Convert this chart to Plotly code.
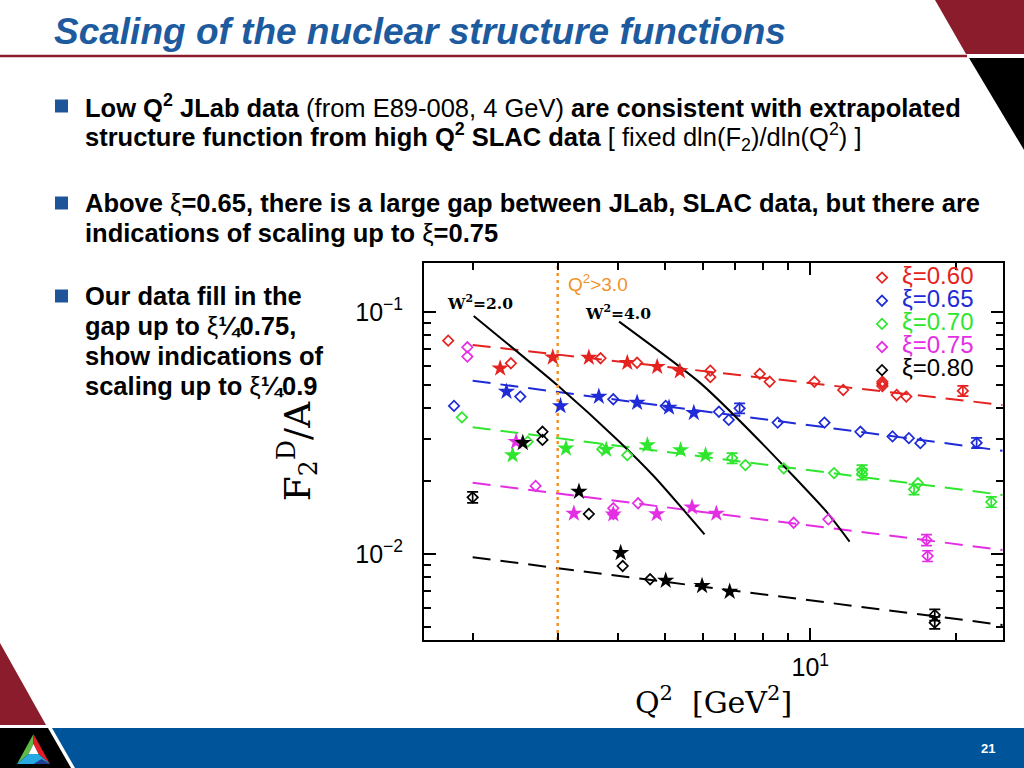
import math
import plotly.graph_objects as go

# ---------------- data ----------------
X_MIN, X_MAX = 1.586, 25.06
Y_MIN, Y_MAX = 0.00441, 0.1594
Q2_CUT = 3.0

FIT_Q2 = [2.0, 25.0]

# xi = 0.60 (red)
Q2_R_DIA = [1.78, 2.40, 3.68, 4.38, 6.21, 6.21, 7.86, 8.24, 10.2, 11.7, 14.1, 14.1, 14.1, 15.1, 15.8]
F_R_DIA = [0.0761, 0.0614, 0.0644, 0.0617, 0.0572, 0.0538, 0.0555, 0.0515, 0.0515, 0.0476, 0.0515, 0.0505, 0.0494, 0.0454, 0.0447]
Q2_R_ERR = [20.7]
F_R_ERR = [0.0472]
E_R_ERR = [0.0023]
Q2_R_STAR = [2.28, 2.93, 3.48, 4.18, 4.82, 5.37]
F_R_STAR = [0.0585, 0.0650, 0.0648, 0.0617, 0.0594, 0.0570]
FIT_R = [0.0731, 0.0413]

# xi = 0.65 (blue)
Q2_B_DIA = [1.83, 2.51, 3.91, 5.02, 6.47, 6.78, 8.56, 10.7, 12.7, 14.8, 16.0, 16.9]
F_B_DIA = [0.0409, 0.0447, 0.0436, 0.0409, 0.0387, 0.0358, 0.0349, 0.0349, 0.0320, 0.0306, 0.0301, 0.0287]
Q2_B_ERR = [7.14, 22.1]
F_B_ERR = [0.0400, 0.0288]
E_B_ERR = [0.0019, 0.0014]
Q2_B_STAR = [2.35, 3.04, 3.65, 4.38, 5.10, 5.74]
F_B_STAR = [0.0469, 0.0409, 0.0447, 0.0422, 0.0403, 0.0383]
FIT_B = [0.0520, 0.0267]

# xi = 0.70 (green)
Q2_G_DIA = [1.90, 2.60, 3.71, 4.18, 7.34, 8.81, 11.2, 16.7]
F_G_DIA = [0.0367, 0.0291, 0.0271, 0.0256, 0.0233, 0.0226, 0.0216, 0.0196]
Q2_G_ERR = [6.89, 12.8, 12.8, 16.4, 23.7]
F_G_ERR = [0.0249, 0.0222, 0.0214, 0.0185, 0.0164]
E_G_ERR = [0.0012, 0.0011, 0.0011, 0.0009, 0.0008]
Q2_G_STAR = [2.42, 3.12, 3.78, 4.60, 5.39, 6.07]
F_G_STAR = [0.0256, 0.0273, 0.0270, 0.0282, 0.0269, 0.0256]
FIT_G = [0.0334, 0.01754]

# xi = 0.75 (magenta)
Q2_M_DIA = [1.95, 1.95, 2.70, 3.91, 3.91, 4.40, 9.24, 10.9]
F_M_DIA = [0.0715, 0.0654, 0.0191, 0.01545, 0.01463, 0.0162, 0.01346, 0.0139]
Q2_M_ERR = [17.4, 17.5]
F_M_ERR = [0.01143, 0.00981]
E_M_ERR = [0.0006, 0.0005]
Q2_M_STAR = [2.46, 3.24, 3.91, 4.81, 5.69, 6.39]
F_M_STAR = [0.0291, 0.0147, 0.0146, 0.01463, 0.0156, 0.0147]
FIT_M = [0.0197, 0.01039]

# xi = 0.80 (black)
Q2_K_DIA = [2.79, 2.79, 3.48, 4.09, 4.66]
F_K_DIA = [0.0320, 0.0296, 0.01463, 0.00892, 0.00786]
Q2_K_ERR = [2.0, 18.1, 18.1]
F_K_ERR = [0.01715, 0.0056, 0.0052]
E_K_ERR = [0.0009, 0.0003, 0.0003]
Q2_K_STAR = [2.54, 3.32, 4.05, 5.02, 5.97, 6.81]
F_K_STAR = [0.0288, 0.0181, 0.0101, 0.00776, 0.00738, 0.00699]
FIT_K = [0.00969, 0.00509]

# W^2 = const curves
Q2_W2_2 = [2.01, 3.02, 3.99, 4.75, 6.04]
F_W2_2 = [0.0963, 0.0491, 0.0296, 0.0209, 0.01206]
Q2_W2_4 = [4.02, 5.93, 7.82, 10.8, 12.06]
F_W2_4 = [0.0912, 0.0507, 0.0296, 0.01496, 0.01125]

LEGEND_NAMES = ["ξ=0.60", "ξ=0.65", "ξ=0.70", "ξ=0.75", "ξ=0.80"]
X_TICKS = [10]
X_TICKTEXT = ["10<sup>1</sup>"]
X_MINOR = [2, 3, 4, 5, 6, 7, 8, 9, 20]
Y_TICKS = [0.01, 0.1]
Y_TICKTEXT = ["10<sup>−2</sup>", "10<sup>−1</sup>"]
Y_MINOR = [0.005, 0.006, 0.007, 0.008, 0.009, 0.02, 0.03, 0.04, 0.05, 0.06, 0.07, 0.08, 0.09]

TITLE = "Scaling of the nuclear structure functions"
TEXT_LINES = [
    "<b>Low Q<sup>2</sup> JLab data</b> (from E89-008, 4 GeV) <b>are consistent with extrapolated</b>",
    "<b>structure function from high Q<sup>2</sup> SLAC data</b> [ fixed dln(F<sub>2</sub>)/dln(Q<sup>2</sup>) ]",
    "<b>Above </b>ξ<b>=0.65, there is a large gap between JLab, SLAC data, but there are</b>",
    "<b>indications of scaling up to </b>ξ<b>=0.75</b>",
    "<b>Our data fill in the</b>",
    "<b>gap up to </b>ξ<b>¼0.75,</b>",
    "<b>show indications of</b>",
    "<b>scaling up to </b>ξ<b>¼0.9</b>",
]
PAGE_NUMBER = "21"

# ---------------- styling ----------------
W, H = 1024, 768
RED, BLUE, GREEN, MAGENTA, BLACK = "#E42320", "#1E2BD6", "#2EE62E", "#E42EE4", "#000000"
ORANGE = "#F2922A"
SLIDE_RED = "#8A1C2B"
SLIDE_BLUE = "#00549A"
TITLE_BLUE = "#1D5B9E"
BULLET_BLUE = "#1E5598"
SANS = "Liberation Sans"
SERIF = "DejaVu Serif"
DASH = "18px,10px"


def px(x):
    return x / W


def py(y):
    return 1 - y / H


fig = go.Figure()

series = [
    (RED, LEGEND_NAMES[0], Q2_R_DIA, F_R_DIA, Q2_R_ERR, F_R_ERR, E_R_ERR, Q2_R_STAR, F_R_STAR, FIT_R),
    (BLUE, LEGEND_NAMES[1], Q2_B_DIA, F_B_DIA, Q2_B_ERR, F_B_ERR, E_B_ERR, Q2_B_STAR, F_B_STAR, FIT_B),
    (GREEN, LEGEND_NAMES[2], Q2_G_DIA, F_G_DIA, Q2_G_ERR, F_G_ERR, E_G_ERR, Q2_G_STAR, F_G_STAR, FIT_G),
    (MAGENTA, LEGEND_NAMES[3], Q2_M_DIA, F_M_DIA, Q2_M_ERR, F_M_ERR, E_M_ERR, Q2_M_STAR, F_M_STAR, FIT_M),
    (BLACK, LEGEND_NAMES[4], Q2_K_DIA, F_K_DIA, Q2_K_ERR, F_K_ERR, E_K_ERR, Q2_K_STAR, F_K_STAR, FIT_K),
]

# fits first (underneath markers)
for col, name, qd, fd, qe, fe, ee, qs, fs, fit in series:
    fig.add_trace(go.Scatter(x=FIT_Q2, y=fit, mode="lines", showlegend=False, hoverinfo="skip",
                             line=dict(color=col, width=2, dash=DASH)))

# W^2 curves
for q, f in [(Q2_W2_2, F_W2_2), (Q2_W2_4, F_W2_4)]:
    fig.add_trace(go.Scatter(x=q, y=f, mode="lines", showlegend=False, hoverinfo="skip",
                             line=dict(color="black", width=2, shape="spline", smoothing=0.6)))

# Q^2 cut line
fig.add_trace(go.Scatter(x=[Q2_CUT, Q2_CUT], y=[Y_MIN, Y_MAX], mode="lines", showlegend=False,
                         hoverinfo="skip", line=dict(color=ORANGE, width=2.5, dash="3px,4px")))

for col, name, qd, fd, qe, fe, ee, qs, fs, fit in series:
    fig.add_trace(go.Scatter(
        x=qd, y=fd, mode="markers",
        name='<span style="font-size:24px;color:%s">%s</span>' % (col, name),
        marker=dict(symbol="diamond-open", size=8, color=col, line=dict(width=1.7, color=col))))
    fig.add_trace(go.Scatter(
        x=qe, y=fe, mode="markers", showlegend=False,
        error_y=dict(type="data", array=ee, color=col, thickness=1.7, width=5.5),
        marker=dict(symbol="diamond-open", size=8, color=col, line=dict(width=1.7, color=col))))
    fig.add_trace(go.Scatter(
        x=qs, y=fs, mode="markers", showlegend=False,
        marker=dict(symbol="star", size=13, color=col, line=dict(width=0))))

# ---------------- slide decorations ----------------
shapes = []


def poly(points, color):
    d = "M " + " L ".join("%.5f,%.5f" % (px(x), py(y)) for x, y in points) + " Z"
    shapes.append(dict(type="path", xref="paper", yref="paper", path=d,
                       fillcolor=color, line=dict(width=0), layer="below"))


# top-right corner
poly([(935, 0), (1024, 0), (1024, 54), (966, 54)], SLIDE_RED)
poly([(969, 58), (1024, 58), (1024, 150)], "#000000")
shapes.append(dict(type="line", xref="paper", yref="paper", x0=0, x1=px(967), y0=py(56), y1=py(56),
                   line=dict(color=SLIDE_RED, width=2.5), layer="below"))
# bottom-left corner & footer
poly([(0, 643), (46, 725), (0, 725)], SLIDE_RED)
poly([(0, 728), (48, 728), (71, 768), (0, 768)], "#000000")
poly([(52, 728), (1024, 728), (1024, 768), (75, 768)], SLIDE_BLUE)
# logo
T, BL, BR = (33.5, 734), (17, 764), (50, 764)
A, WL, WR = (33.5, 744), (28.5, 754), (38.5, 754)
poly([T, A, WL, BL], "#5DBB46")
poly([T, BR, WR, A], "#E31E24")
poly([BL, WL, WR, BR], "#27A9E1")
poly([(41.5, 759), BR, (33.5, 764)], "#1B3F94")
poly([A, WR, WL], "#FFFFFF")

# bullets
for ly in (106, 203, 296):
    shapes.append(dict(type="rect", xref="paper", yref="paper", x0=px(55), x1=px(68),
                       y0=py(ly + 6.5), y1=py(ly - 6.5), fillcolor=BULLET_BLUE,
                       line=dict(width=0), layer="below"))

annotations = []
annotations.append(dict(text="<b><i>%s</i></b>" % TITLE, x=px(52), y=py(32), xref="paper", yref="paper",
                        xanchor="left", yanchor="middle", showarrow=False,
                        font=dict(family=SANS, size=37, color=TITLE_BLUE)))
for txt, ly in zip(TEXT_LINES, [106, 137, 203, 233, 296, 326, 356, 386]):
    annotations.append(dict(text=txt, x=px(83), y=py(ly), xref="paper", yref="paper",
                            xanchor="left", yanchor="middle", showarrow=False,
                            font=dict(family=SANS, size=25.5, color="black")))
annotations.append(dict(text="<b>%s</b>" % PAGE_NUMBER, x=px(988), y=py(748), xref="paper", yref="paper",
                        xanchor="center", yanchor="middle", showarrow=False,
                        font=dict(family=SANS, size=13, color="white")))
# chart labels
annotations.append(dict(text="Q<sup>2</sup>>3.0", x=px(566), y=py(283), xref="paper", yref="paper",
                        xanchor="left", yanchor="middle", showarrow=False,
                        font=dict(family=SANS, size=19, color=ORANGE)))
annotations.append(dict(text="<b>W<sup>2</sup>=2.0</b>", x=px(445), y=py(302), xref="paper", yref="paper",
                        xanchor="left", yanchor="middle", showarrow=False,
                        font=dict(family=SERIF, size=15.5, color="black")))
annotations.append(dict(text="<b>W<sup>2</sup>=4.0</b>", x=px(583), y=py(312), xref="paper", yref="paper",
                        xanchor="left", yanchor="middle", showarrow=False,
                        font=dict(family=SERIF, size=15.5, color="black")))

axis_common = dict(type="log", showline=True, linewidth=2, linecolor="black", mirror="ticks",
                   ticks="inside", ticklen=12, tickwidth=1.5, tickcolor="black",
                   showgrid=False, zeroline=False,
                   tickfont=dict(family=SANS, size=25, color="black"))

fig.update_layout(
    width=W, height=H, autosize=False,
    margin=dict(l=0, r=0, t=0, b=0),
    paper_bgcolor="white", plot_bgcolor="white",
    showlegend=True,
    legend=dict(x=px(862), y=py(261), xanchor="left", yanchor="top", bgcolor="rgba(0,0,0,0)",
                font=dict(family=SANS, size=15.5, color="black"), itemclick=False),
    xaxis=dict(axis_common, domain=[px(424), px(1003)],
               range=[math.log10(X_MIN), math.log10(X_MAX)],
               tickvals=X_TICKS, ticktext=X_TICKTEXT, ticklabelstandoff=4,
               minor=dict(tickvals=X_MINOR, ticks="inside", ticklen=7, tickwidth=1.5, tickcolor="black"),
               title=dict(text="Q<sup>2</sup>  [GeV<sup>2</sup>]", standoff=4,
                          font=dict(family=SERIF, size=30, color="black"))),
    yaxis=dict(axis_common, domain=[py(640), py(263)],
               range=[math.log10(Y_MIN), math.log10(Y_MAX)],
               tickvals=Y_TICKS, ticktext=Y_TICKTEXT, ticklabelstandoff=14,
               minor=dict(tickvals=Y_MINOR, ticks="inside", ticklen=7, tickwidth=1.5, tickcolor="black"),
               title=dict(text="F<sub>2</sub><sup>D</sup>/A", standoff=34,
                          font=dict(family=SERIF, size=36, color="black"))),
    shapes=shapes,
    annotations=annotations,
)

fig.write_html("out.html", config={"displayModeBar": False},
               post_script="document.body.style.margin='0';document.body.style.overflow='hidden';")
